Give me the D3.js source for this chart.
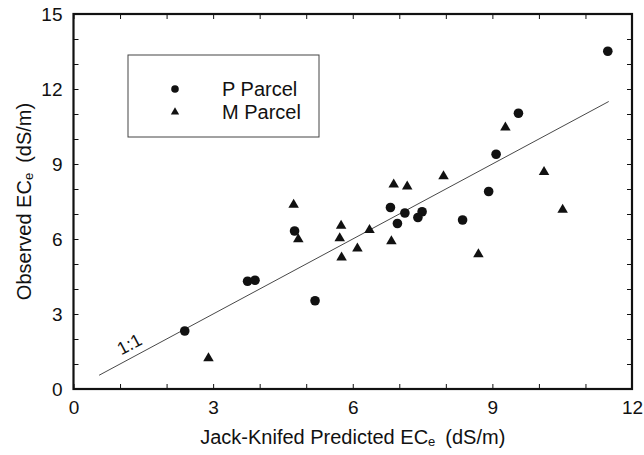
<!DOCTYPE html>
<html>
<head>
<meta charset="utf-8">
<script src="https://cdn.jsdelivr.net/npm/d3@7"></script>
<style>
  body { margin: 0; background: #fff; }
  svg { font-family: "Liberation Sans", Arial, Helvetica, sans-serif; }
  .axis path { display: none; }
  .axis line { stroke: #111; stroke-width: 1; }
  .axis text { font-size: 19px; fill: #111; }
</style>
</head>
<body>
<svg id="chart" width="644" height="455"></svg>
<script>
// P Parcel (circles)
var pX = [11.48, 9.56, 9.08, 8.92, 8.36, 7.49, 7.40, 7.12, 6.96, 6.81, 4.75, 3.74, 3.90, 5.19, 2.39];
var pY = [13.51, 11.03, 9.39, 7.90, 6.76, 7.09, 6.86, 7.04, 6.62, 7.26, 6.32, 4.31, 4.35, 3.53, 2.32];

// M Parcel (triangles)
var mX = [2.90, 4.73, 4.83, 5.75, 5.72, 5.76, 6.10, 6.36, 6.83, 6.88, 7.17, 7.95, 8.70, 9.28, 10.11, 10.51];
var mY = [1.23, 7.37, 5.99, 6.53, 6.03, 5.26, 5.62, 6.36, 5.91, 8.18, 8.10, 8.51, 5.39, 10.46, 8.68, 7.17];

var lineEnds = [0.55, 11.5];   // 1:1 line
var xTicks = d3.range(0, 13);
var yTicks = d3.range(0, 16);
var labelEvery = 3;

var svg = d3.select("#chart");
var pl = 73.5, pr = 632, pt = 14, pb = 389;

var x = d3.scaleLinear().domain([0, 12]).range([pl, pr]);
var y = d3.scaleLinear().domain([0, 15]).range([pb, pt]);

function fmt(d) { return d % labelEvery === 0 ? d : ""; }

svg.append("g").attr("class", "axis")
  .attr("transform", "translate(0," + pb + ")")
  .call(d3.axisBottom(x).tickValues(xTicks).tickFormat(fmt).tickSizeInner(-5).tickSizeOuter(0).tickPadding(12));
svg.append("g").attr("class", "axis")
  .attr("transform", "translate(0," + pt + ")")
  .call(d3.axisTop(x).tickValues(xTicks).tickFormat("").tickSizeInner(-5).tickSizeOuter(0));
svg.append("g").attr("class", "axis")
  .attr("transform", "translate(" + pl + ",0)")
  .call(d3.axisLeft(y).tickValues(yTicks).tickFormat(fmt).tickSizeInner(-5).tickSizeOuter(0).tickPadding(11));
svg.append("g").attr("class", "axis")
  .attr("transform", "translate(" + pr + ",0)")
  .call(d3.axisRight(y).tickValues(yTicks).tickFormat("").tickSizeInner(-5).tickSizeOuter(0));

svg.append("rect")
  .attr("x", pl).attr("y", pt)
  .attr("width", pr - pl).attr("height", pb - pt)
  .attr("fill", "none").attr("stroke", "#111").attr("stroke-width", 2.2);

// 1:1 line
svg.append("line")
  .attr("x1", x(lineEnds[0])).attr("y1", y(lineEnds[0]))
  .attr("x2", x(lineEnds[1])).attr("y2", y(lineEnds[1]))
  .attr("stroke", "#333").attr("stroke-width", 0.9);

var ang = -Math.atan((y(0) - y(1)) / (x(1) - x(0))) * 180 / Math.PI;
svg.append("text")
  .attr("transform", "translate(" + x(1.2) + "," + y(1.8) + ") rotate(" + ang + ")")
  .attr("text-anchor", "middle").attr("dy", "0.35em")
  .style("font-size", "18px").attr("fill", "#111")
  .text("1:1");

// points
svg.append("g").selectAll("circle")
  .data(d3.range(pX.length))
  .enter().append("circle")
  .attr("cx", function(i) { return x(pX[i]); })
  .attr("cy", function(i) { return y(pY[i]); })
  .attr("r", 4.8)
  .attr("fill", "#111");

var tri = d3.symbol().type(d3.symbolTriangle).size(48);
svg.append("g").selectAll("path")
  .data(d3.range(mX.length))
  .enter().append("path")
  .attr("d", tri)
  .attr("transform", function(i) { return "translate(" + x(mX[i]) + "," + y(mY[i]) + ")"; })
  .attr("fill", "#111");

// legend
var lg = svg.append("g");
lg.append("rect")
  .attr("x", 128).attr("y", 55).attr("width", 191).attr("height", 82)
  .attr("fill", "none").attr("stroke", "#444").attr("stroke-width", 1);
lg.append("circle").attr("cx", 175).attr("cy", 89).attr("r", 3.8).attr("fill", "#111");
lg.append("path").attr("d", d3.symbol().type(d3.symbolTriangle).size(30))
  .attr("transform", "translate(175,112)").attr("fill", "#111");
lg.append("text").attr("x", 222).attr("y", 96).style("font-size", "20px").attr("fill", "#111").text("P Parcel");
lg.append("text").attr("x", 222).attr("y", 119).style("font-size", "20px").attr("fill", "#111").text("M Parcel");

// axis titles
var xt = svg.append("text")
  .attr("x", (pl + pr) / 2).attr("y", 444)
  .attr("text-anchor", "middle").style("font-size", "20px").attr("fill", "#111");
xt.append("tspan").text("Jack-Knifed Predicted EC");
xt.append("tspan").attr("dy", 2).style("font-size", "13px").text("e");
xt.append("tspan").attr("dy", -2).text("\u2002(dS/m)");

var yt = svg.append("text")
  .attr("transform", "translate(31," + (pt + pb) / 2 + ") rotate(-90)")
  .attr("text-anchor", "middle").style("font-size", "20px").attr("fill", "#111");
yt.append("tspan").text("Observed EC");
yt.append("tspan").attr("dy", 2).style("font-size", "13px").text("e");
yt.append("tspan").attr("dy", -2).text("\u2002(dS/m)");
</script>
</body>
</html>
